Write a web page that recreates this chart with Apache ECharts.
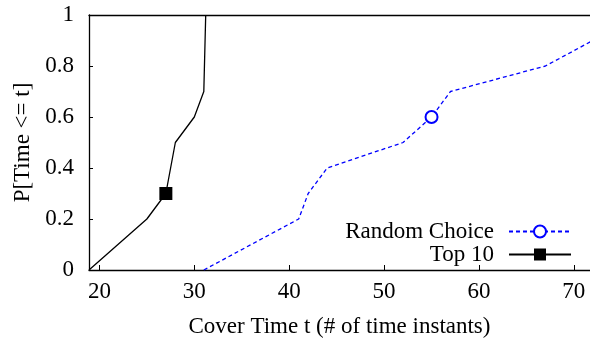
<!DOCTYPE html>
<html lang="en">
<head>
    <meta charset="UTF-8">
    <title></title>
    <script src="https://cdn.jsdelivr.net/npm/echarts@6/dist/echarts.min.js"></script>
</head>
<body style="margin:0">
<div id="main" style="width: 590px;height:344px;"></div>

<script type="text/javascript">
    // data
    var randomX = [31, 41, 42, 44, 52, 55, 57, 67, 72];
    var randomY = [0, 0.2, 0.3, 0.4, 0.5, 0.6, 0.7, 0.8, 0.9];
    var randomMark = 5;
    var top10X = [18.9, 25, 27, 28, 30, 31, 31.2];
    var top10Y = [0, 0.2, 0.3, 0.5, 0.6, 0.7, 1];
    var top10Mark = 2;
    var xMin = 18.9, xMax = 71.7;

    function pts(xs, ys, mark) {
        var out = [];
        for (var i = 0; i < xs.length; i++) {
            var p = {value: [xs[i], ys[i]]};
            if (i !== mark) p.symbol = 'none';
            out.push(p);
        }
        return out;
    }

    var font = 'Liberation Serif';
    var fs = 23;
    var myChart = echarts.init(document.getElementById('main'));
    var option = {
        animation: false,
        textStyle: {fontFamily: font},
        grid: {left: 89, right: 0, top: 15, bottom: 74},
        legend: {
            orient: 'vertical',
            right: 13,
            top: 215,
            align: 'right',
            itemWidth: 62,
            itemHeight: 15,
            itemGap: 0,
            selectedMode: false,
            textStyle: {fontFamily: font, fontSize: fs, lineHeight: 20, color: '#000', padding: [0, 10, 0, 0]},
            data: ['Random Choice', 'Top 10']
        },
        xAxis: [{
            type: 'value',
            min: xMin,
            max: xMax,
            name: 'Cover Time t (# of time instants)',
            nameLocation: 'middle',
            nameGap: 45,
            nameTextStyle: {fontFamily: font, fontSize: fs, color: '#000'},
            axisLine: {lineStyle: {color: '#000', width: 1.3}},
            axisTick: {inside: true, length: 5, lineStyle: {color: '#000'}},
            axisLabel: {fontFamily: font, fontSize: fs, color: '#000', margin: 10,
                showMinLabel: false, showMaxLabel: false},
            splitLine: {show: false}
        }, {
            type: 'value',
            position: 'top',
            min: xMin,
            max: xMax,
            axisLine: {show: true, lineStyle: {color: '#000', width: 1.3}},
            axisTick: {show: false},
            axisLabel: {show: false},
            splitLine: {show: false}
        }],
        yAxis: {
            type: 'value',
            min: 0,
            max: 1,
            interval: 0.2,
            name: 'P[Time <= t]',
            nameLocation: 'middle',
            nameGap: 53,
            nameTextStyle: {fontFamily: font, fontSize: fs, color: '#000'},
            axisLine: {show: true, lineStyle: {color: '#000', width: 1.3}},
            axisTick: {show: true, inside: true, length: 4, lineStyle: {color: '#000'}},
            axisLabel: {fontFamily: font, fontSize: fs, color: '#000', margin: 15},
            splitLine: {show: false}
        },
        series: [{
            name: 'Random Choice',
            type: 'line',
            symbol: 'emptyCircle',
            symbolSize: 12,
            showAllSymbol: true,
            color: '#0000ff',
            itemStyle: {borderWidth: 1.5},
            lineStyle: {color: '#0000ff', width: 1.3, type: [4, 3]},
            emphasis: {disabled: true},
            data: pts(randomX, randomY, randomMark)
        }, {
            name: 'Top 10',
            type: 'line',
            symbol: 'rect',
            symbolSize: 13,
            showAllSymbol: true,
            color: '#000',
            lineStyle: {color: '#000', width: 1.3},
            emphasis: {disabled: true},
            data: pts(top10X, top10Y, top10Mark)
        }]
    };
    myChart.setOption(option);
</script>
</body>
</html>
